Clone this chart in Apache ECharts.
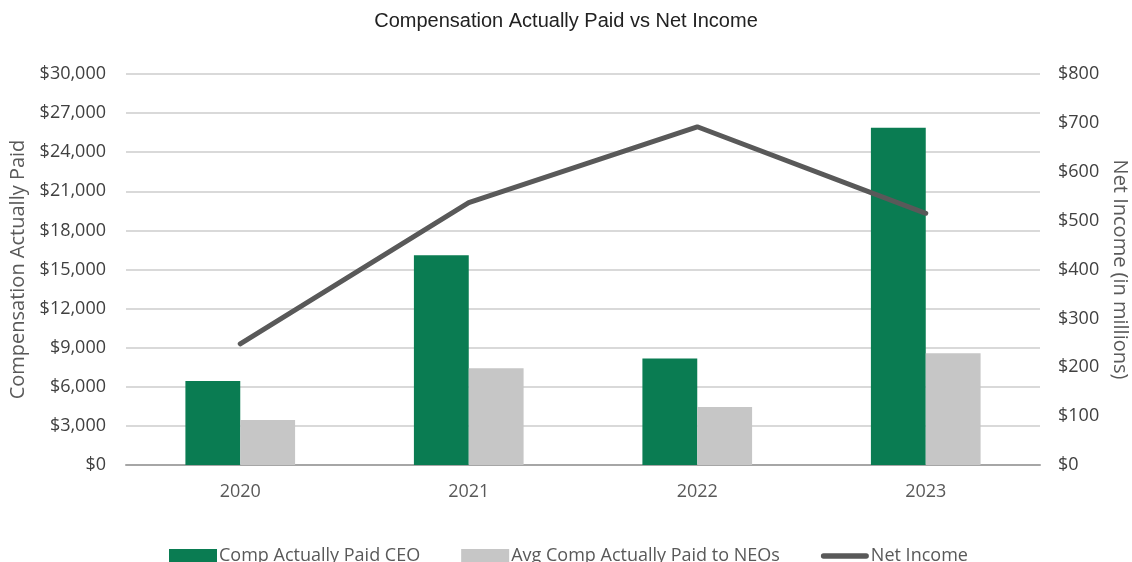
<!DOCTYPE html>
<html>
<head>
<meta charset="utf-8">
<script src="https://cdn.jsdelivr.net/npm/echarts@6/dist/echarts.min.js"></script>
<style>
  html, body { margin: 0; padding: 0; background: #fff; }
  #chart { width: 1132px; height: 562px; }
</style>
</head>
<body>
<div id="chart"></div>
<script>
// data
const years = ['2020', '2021', '2022', '2023'];
const ceoPay = [6450, 16090, 8170, 25880];
const neoPay = [3450, 7420, 4450, 8570];
const netIncome = [248, 537, 692, 515];

const myChart = echarts.init(document.getElementById('chart'));

const labelFont = "'Open Sans', sans-serif";

const option = {
  animation: false,
  title: {
    text: 'Compensation Actually Paid vs Net Income',
    left: 'center',
    top: 6,
    textStyle: { fontFamily: 'Liberation Sans, Arial', fontSize: 20, fontWeight: 'normal', color: '#222' },
  },
  legend: {
    bottom: -8,
    left: 164,
    itemWidth: 48,
    itemHeight: 14,
    itemGap: 41,
    textStyle: { fontFamily: labelFont, fontSize: 18, color: '#595959', padding: [0, 0, 0, -3] },
    data: [
      { name: 'Comp Actually Paid CEO', icon: 'rect' },
      { name: 'Avg Comp Actually Paid to NEOs', icon: 'rect' },
      {
        name: 'Net Income',
        icon: 'path://M3,0 L50,0 A3,3 0 0 1 50,6 L3,6 A3,3 0 0 1 3,0 Z',
        itemWidth: 53,
        itemStyle: { color: '#595959' },
      },
    ],
  },
  grid: { left: 126, right: 92, top: 74, bottom: 97, outerBoundsMode: 'none' },
  xAxis: {
    type: 'category',
    data: years,
    axisTick: { show: false },
    axisLine: { lineStyle: { color: '#a6a6a6', width: 2 } },
    axisLabel: { fontFamily: labelFont, fontSize: 18, color: '#595959', margin: 18 },
  },
  yAxis: [
    {
      type: 'value',
      min: 0,
      max: 30000,
      interval: 3000,
      name: 'Compensation Actually Paid',
      nameLocation: 'middle',
      nameGap: 90,
      nameTextStyle: { fontFamily: labelFont, fontSize: 20, color: '#595959' },
      axisLabel: {
        fontFamily: labelFont, fontSize: 18, color: '#404040', margin: 20,
        formatter: v => '$' + v.toLocaleString('en-US'),
      },
      splitLine: { lineStyle: { color: '#d9d9d9', width: 2 } },
    },
    {
      type: 'value',
      min: 0,
      max: 800,
      interval: 100,
      name: 'Net Income (in millions)',
      nameLocation: 'middle',
      nameRotate: -90,
      nameGap: 70,
      nameTextStyle: { fontFamily: labelFont, fontSize: 20, color: '#595959' },
      axisLabel: {
        fontFamily: labelFont, fontSize: 18, color: '#404040', margin: 18,
        formatter: v => '$' + v,
      },
      splitLine: { show: false },
    },
  ],
  series: [
    {
      name: 'Comp Actually Paid CEO',
      type: 'bar',
      data: ceoPay,
      barGap: '0%',
      barCategoryGap: '52%',
      itemStyle: { color: '#0a7c52' },
    },
    {
      name: 'Avg Comp Actually Paid to NEOs',
      type: 'bar',
      data: neoPay,
      itemStyle: { color: '#c6c6c6' },
    },
    {
      name: 'Net Income',
      type: 'line',
      yAxisIndex: 1,
      data: netIncome,
      symbol: 'none',
      lineStyle: { color: '#595959', width: 5, cap: 'round' },
      itemStyle: { color: '#595959' },
    },
  ],
};

myChart.setOption(option);
</script>
</body>
</html>
